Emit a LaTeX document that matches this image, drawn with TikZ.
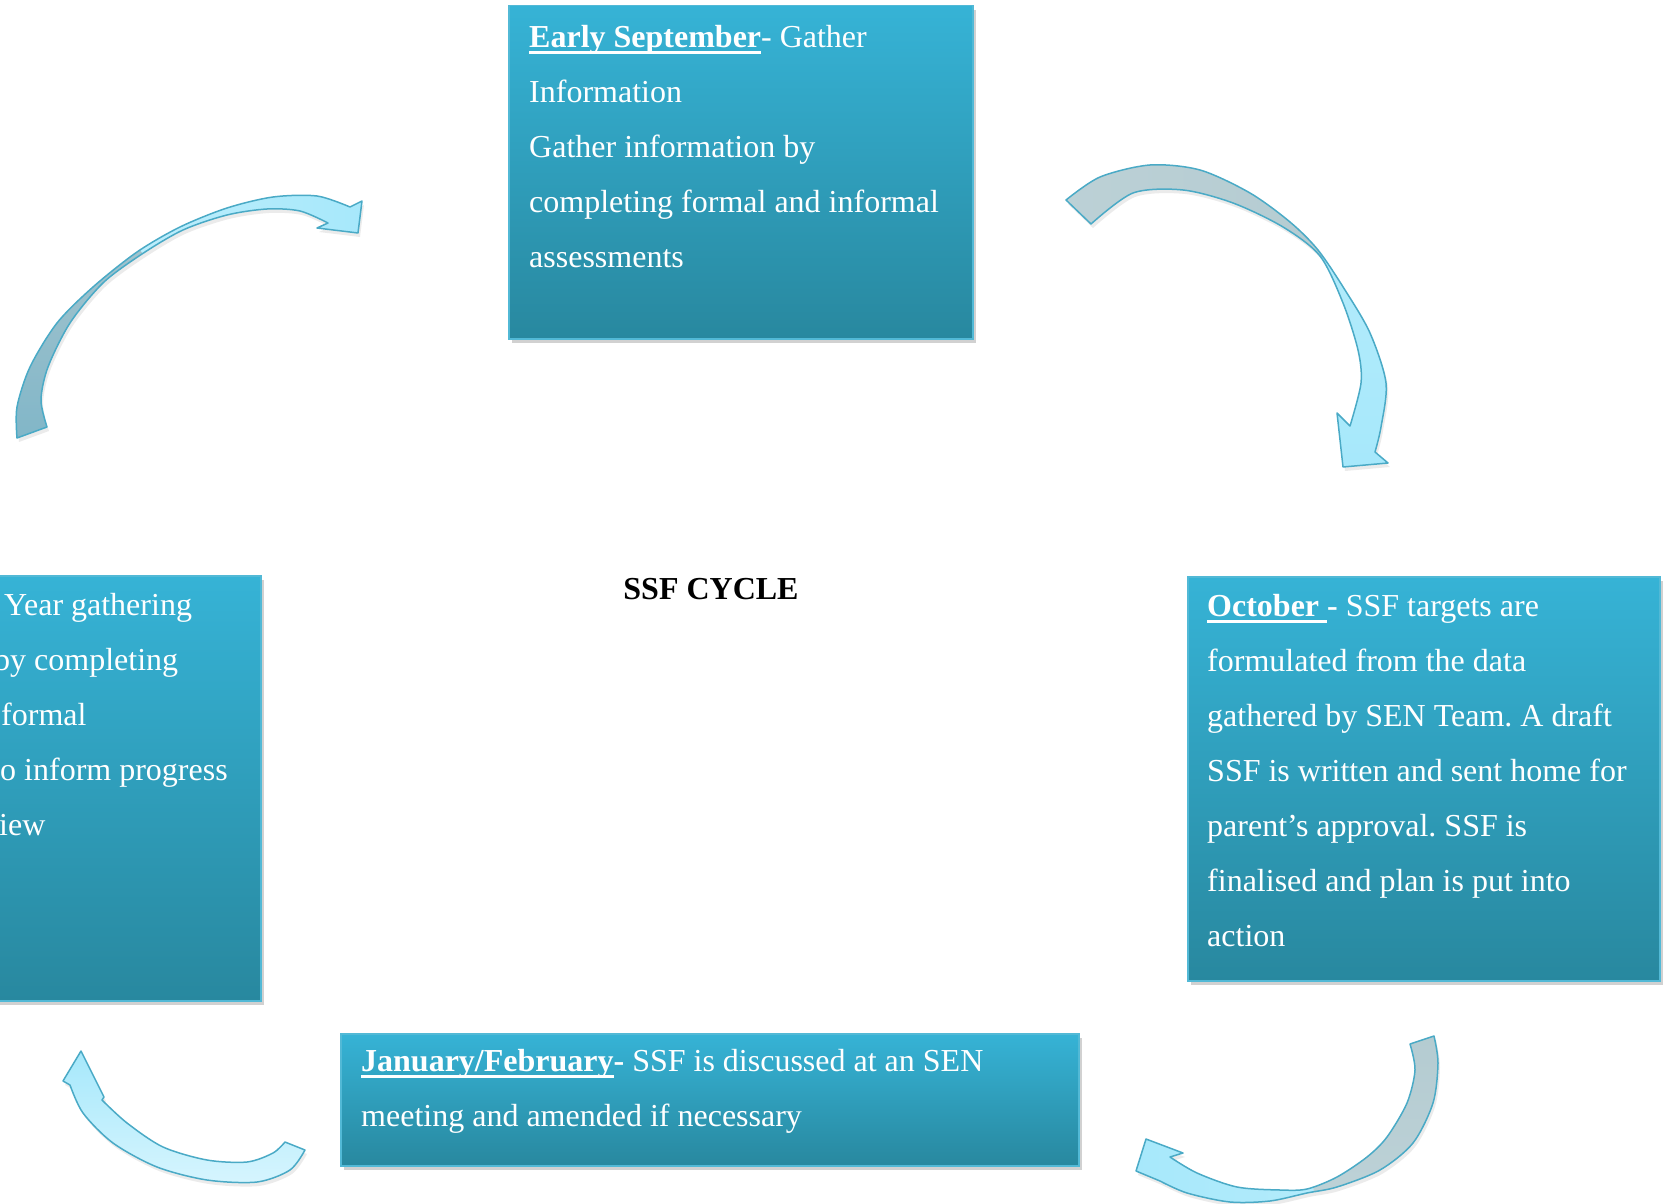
\documentclass[tikz,border=0pt]{standalone}
\usepackage{fontspec}
\setmainfont{Liberation Serif}
\usetikzlibrary{shadows}
\frenchspacing

\definecolor{boxtop}{HTML}{36B3D6}
\definecolor{boxbot}{HTML}{28889F}
\definecolor{boxedge}{HTML}{52B9D6}
\definecolor{arredge}{HTML}{4AAAC6}
\definecolor{arrcyan}{HTML}{A6E8FB}
\definecolor{arrlight}{HTML}{D6F5FE}
\definecolor{arrgray}{HTML}{B2CAD0}
\definecolor{arrdark}{HTML}{7CB4C7}

% bold word with a heavy underline that cuts through descenders
\newsavebox\ulbox
\newcommand\ulbold[1]{\sbox\ulbox{\bfseries #1}\rlap{\rule[-6.5pt]{\wd\ulbox}{3pt}}\usebox\ulbox}

% outlines of the four curved block arrows
\def\arrA{plot[smooth] coordinates {(17,438) (17,407) (30,367) (57,323) (93,287) (137,252) (180,227) (227,208) (273,197) (317,196) (350,207)}
  -- (362,201) -- (358,233) -- (317,228)
  -- plot[smooth] coordinates {(328,223) (300,211) (267,209) (227,215) (183,230) (142,254) (103,283) (70,323) (48,367) (41,400) (47,427)} -- cycle}
\def\arrB{plot[smooth] coordinates {(1066,200) (1100,177) (1150,165) (1200,170) (1250,193) (1290,222) (1318,250) (1345,290) (1370,333) (1386,383) (1381,427) (1375,452)}
  -- (1388,463) -- (1343,467) -- (1337,413)
  -- plot[smooth] coordinates {(1350,426) (1361,383) (1358,350) (1343,303) (1320,256) (1283,227) (1233,203) (1183,190) (1133,193) (1091,224)} -- cycle}
\def\arrC{plot[smooth] coordinates {(1434,1036) (1438,1063) (1433,1103) (1413,1143) (1380,1170) (1337,1187) (1307,1193) (1270,1201) (1230,1202) (1187,1193) (1160,1181)}
  -- (1136,1171) -- (1146,1139) -- (1183,1153)
  -- plot[smooth] coordinates {(1170,1157) (1197,1173) (1237,1187) (1280,1190) (1307,1189) (1337,1177) (1367,1157) (1387,1137) (1407,1103) (1415,1070) (1410,1044)} -- cycle}
\def\arrD{plot[smooth] coordinates {(70,1085) (83,1113) (113,1143) (157,1167) (207,1180) (257,1182) (290,1170) (305,1150)}
  -- plot[smooth] coordinates {(285,1142) (273,1153) (247,1162) (207,1160) (163,1147) (127,1123) (102,1100)}
  -- (104,1097) -- (81,1051) -- (63,1081) -- cycle}

\tikzset{
  panel/.style={draw=boxedge, line width=1.5pt, top color=boxtop, bottom color=boxbot,
    anchor=north west, inner sep=0pt,
    drop shadow={shadow xshift=3pt, shadow yshift=-4pt, opacity=0.3, fill=black!60}},
  paneltext/.style={text=white, font=\fontsize{32}{55}\selectfont, inner sep=0pt,
    anchor=north west, align=flush left},
  linetext/.style={text=white, font=\fontsize{32}{55}\selectfont, inner sep=0pt, anchor=base west},
  arrline/.style={draw=arredge, line width=1.5pt, line join=round},
  arrshadow/.style={fill=black, opacity=0.08}
}

\begin{document}
\begin{tikzpicture}[x=1pt, y=-1pt]
\useasboundingbox (0,0) rectangle (1666,1204);

% ---- boxes ----
\node[panel, minimum width=464pt, minimum height=333pt] (sept) at (508,5) {};
\node[panel, minimum width=472pt, minimum height=404pt] (oct) at (1187,576) {};
\node[panel, minimum width=460pt, minimum height=425pt] (summer) at (-200,575) {};
\node[panel, minimum width=738pt, minimum height=132pt] (janfeb) at (340,1033) {};

% ---- box texts ----
\node[paneltext, text width=440pt] (septtxt) at (529,8.5)
  {\strut\ulbold{Early September}- Gather\\Information\\Gather information by\\completing formal and informal\\assessments};
\node[paneltext, text width=445pt] (octtxt) at (1207,577.5)
  {\strut\ulbold{October }\textbf{-} SSF targets are\\formulated from the data\\gathered by SEN Team. A draft\\SSF is written and sent home for\\parent’s approval. SSF is\\finalised and plan is put into\\action};
\node[paneltext, text width=700pt] (janfebtxt) at (361,1032.5)
  {\strut\ulbold{January/February}\textbf{-} SSF is discussed at an SEN\\meeting and amended if necessary};

\node[linetext] (sum1) at (4,615) {Year gathering};
\node[linetext] (sum2) at (-6,670) {by completing};
\node[linetext] (sum3) at (1,725) {formal};
\node[linetext] (sum4) at (0,780) {o inform progress};
\node[linetext] (sum5) at (-1,835) {iew};

\node[font=\fontsize{32}{38}\selectfont\bfseries, anchor=base] (title) at (711,599) {SSF CYCLE};

% ---- curved arrows ----
\fill[arrshadow, shift={(2,4)}] \arrA;
\fill[arrshadow, shift={(2,4)}] \arrB;
\fill[arrshadow, shift={(2,4)}] \arrC;
\fill[arrshadow, shift={(2,4)}] \arrD;

\begin{scope}
  \clip \arrA;
  \shade[left color=arrcyan!60!white, right color=arrcyan] (0,150) rectangle (370,470);
  \shade[top color=arrgray, bottom color=arrdark] (70,150) -- (210,350) -- (210,470) -- (0,470) -- (0,150) -- cycle;
\end{scope}
\draw[arrline] \arrA;

\begin{scope}
  \clip \arrB;
  \shade[top color=arrcyan!80!white, bottom color=arrcyan] (1040,150) rectangle (1400,480);
  \shade[left color=arrgray!85!white, right color=arrgray] (1220,358) -- (1420,158) -- (1420,100) -- (1000,100) -- (1000,358) -- cycle;
\end{scope}
\draw[arrline] \arrB;

\begin{scope}
  \clip \arrC;
  \shade[left color=arrcyan, right color=arrcyan!75!white] (1120,1020) rectangle (1460,1210);
  \shade[top color=arrgray, bottom color=arrgray!85!white] (1300,1000) -- (1500,1000) -- (1500,1210) -- (1315,1210) -- cycle;
\end{scope}
\draw[arrline] \arrC;

\shade[top color=arrcyan, bottom color=arrlight] \arrD;
\draw[arrline] \arrD;
\end{tikzpicture}
\end{document}
